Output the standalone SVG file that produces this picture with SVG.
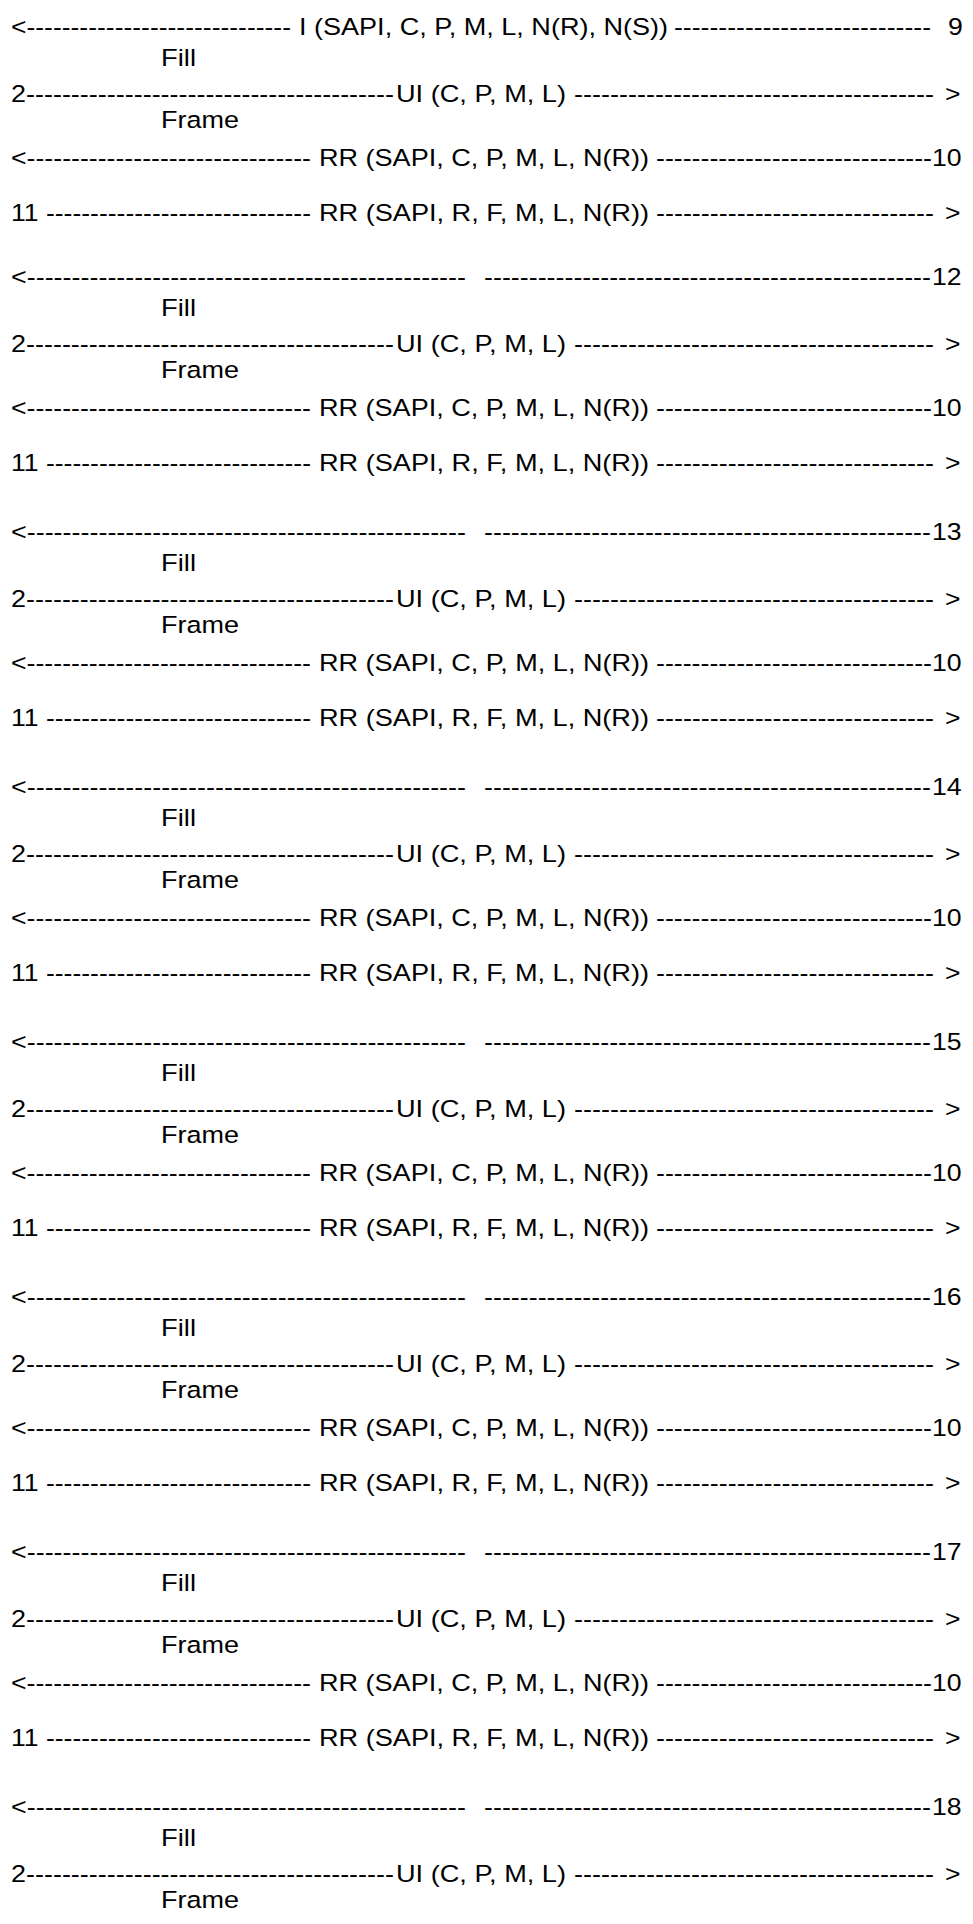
<svg xmlns="http://www.w3.org/2000/svg" width="973" height="1924" viewBox="0 0 973 1924">
<style>
text{font-family:"Liberation Sans",Arial,sans-serif;font-size:24.5px;fill:#000}
</style>
<rect width="973" height="1924" fill="#fff"/>
<g id="connectors">
<g id="block-9">
<text x="11" y="34.6" textLength="280" lengthAdjust="spacingAndGlyphs">&lt;------------------------------</text>
<text x="299" y="34.6" textLength="369" lengthAdjust="spacingAndGlyphs">I (SAPI, C, P, M, L, N(R), N(S))</text>
<text x="674" y="34.6" textLength="257" lengthAdjust="spacingAndGlyphs">-----------------------------</text>
<text x="948" y="34.6" textLength="14.8" lengthAdjust="spacingAndGlyphs">9</text>
<text x="161" y="65.8" textLength="35" lengthAdjust="spacingAndGlyphs">Fill</text>
<text x="11" y="101.8" textLength="383" lengthAdjust="spacingAndGlyphs">2-----------------------------------------</text>
<text x="396" y="101.8" textLength="170" lengthAdjust="spacingAndGlyphs">UI (C, P, M, L)</text>
<text x="574" y="101.8" textLength="360" lengthAdjust="spacingAndGlyphs">----------------------------------------</text>
<text x="945" y="101.8" textLength="15.5" lengthAdjust="spacingAndGlyphs">&gt;</text>
<text x="161" y="127.8" textLength="78" lengthAdjust="spacingAndGlyphs">Frame</text>
<text x="11" y="165.5" textLength="300" lengthAdjust="spacingAndGlyphs">&lt;--------------------------------</text>
<text x="319" y="165.5" textLength="330" lengthAdjust="spacingAndGlyphs">RR (SAPI, C, P, M, L, N(R))</text>
<text x="656" y="165.5" textLength="276" lengthAdjust="spacingAndGlyphs">-------------------------------</text>
<text x="932" y="165.5" textLength="29.6" lengthAdjust="spacingAndGlyphs">10</text>
<text x="11" y="220.5" textLength="300" lengthAdjust="spacingAndGlyphs">11 ------------------------------</text>
<text x="319" y="220.5" textLength="330" lengthAdjust="spacingAndGlyphs">RR (SAPI, R, F, M, L, N(R))</text>
<text x="656" y="220.5" textLength="278" lengthAdjust="spacingAndGlyphs">-------------------------------</text>
<text x="945" y="220.5" textLength="15.5" lengthAdjust="spacingAndGlyphs">&gt;</text>
</g>
<g id="block-12">
<text x="11" y="285" textLength="455" lengthAdjust="spacingAndGlyphs">&lt;-------------------------------------------------</text>
<text x="484" y="285" textLength="447" lengthAdjust="spacingAndGlyphs">--------------------------------------------------</text>
<text x="932" y="285" textLength="29.6" lengthAdjust="spacingAndGlyphs">12</text>
<text x="161" y="316.2" textLength="35" lengthAdjust="spacingAndGlyphs">Fill</text>
<text x="11" y="352.2" textLength="383" lengthAdjust="spacingAndGlyphs">2-----------------------------------------</text>
<text x="396" y="352.2" textLength="170" lengthAdjust="spacingAndGlyphs">UI (C, P, M, L)</text>
<text x="574" y="352.2" textLength="360" lengthAdjust="spacingAndGlyphs">----------------------------------------</text>
<text x="945" y="352.2" textLength="15.5" lengthAdjust="spacingAndGlyphs">&gt;</text>
<text x="161" y="378.2" textLength="78" lengthAdjust="spacingAndGlyphs">Frame</text>
<text x="11" y="415.9" textLength="300" lengthAdjust="spacingAndGlyphs">&lt;--------------------------------</text>
<text x="319" y="415.9" textLength="330" lengthAdjust="spacingAndGlyphs">RR (SAPI, C, P, M, L, N(R))</text>
<text x="656" y="415.9" textLength="276" lengthAdjust="spacingAndGlyphs">-------------------------------</text>
<text x="932" y="415.9" textLength="29.6" lengthAdjust="spacingAndGlyphs">10</text>
<text x="11" y="470.9" textLength="300" lengthAdjust="spacingAndGlyphs">11 ------------------------------</text>
<text x="319" y="470.9" textLength="330" lengthAdjust="spacingAndGlyphs">RR (SAPI, R, F, M, L, N(R))</text>
<text x="656" y="470.9" textLength="278" lengthAdjust="spacingAndGlyphs">-------------------------------</text>
<text x="945" y="470.9" textLength="15.5" lengthAdjust="spacingAndGlyphs">&gt;</text>
</g>
<g id="block-13">
<text x="11" y="540" textLength="455" lengthAdjust="spacingAndGlyphs">&lt;-------------------------------------------------</text>
<text x="484" y="540" textLength="447" lengthAdjust="spacingAndGlyphs">--------------------------------------------------</text>
<text x="932" y="540" textLength="29.6" lengthAdjust="spacingAndGlyphs">13</text>
<text x="161" y="571.2" textLength="35" lengthAdjust="spacingAndGlyphs">Fill</text>
<text x="11" y="607.2" textLength="383" lengthAdjust="spacingAndGlyphs">2-----------------------------------------</text>
<text x="396" y="607.2" textLength="170" lengthAdjust="spacingAndGlyphs">UI (C, P, M, L)</text>
<text x="574" y="607.2" textLength="360" lengthAdjust="spacingAndGlyphs">----------------------------------------</text>
<text x="945" y="607.2" textLength="15.5" lengthAdjust="spacingAndGlyphs">&gt;</text>
<text x="161" y="633.2" textLength="78" lengthAdjust="spacingAndGlyphs">Frame</text>
<text x="11" y="670.9" textLength="300" lengthAdjust="spacingAndGlyphs">&lt;--------------------------------</text>
<text x="319" y="670.9" textLength="330" lengthAdjust="spacingAndGlyphs">RR (SAPI, C, P, M, L, N(R))</text>
<text x="656" y="670.9" textLength="276" lengthAdjust="spacingAndGlyphs">-------------------------------</text>
<text x="932" y="670.9" textLength="29.6" lengthAdjust="spacingAndGlyphs">10</text>
<text x="11" y="725.9" textLength="300" lengthAdjust="spacingAndGlyphs">11 ------------------------------</text>
<text x="319" y="725.9" textLength="330" lengthAdjust="spacingAndGlyphs">RR (SAPI, R, F, M, L, N(R))</text>
<text x="656" y="725.9" textLength="278" lengthAdjust="spacingAndGlyphs">-------------------------------</text>
<text x="945" y="725.9" textLength="15.5" lengthAdjust="spacingAndGlyphs">&gt;</text>
</g>
<g id="block-14">
<text x="11" y="795" textLength="455" lengthAdjust="spacingAndGlyphs">&lt;-------------------------------------------------</text>
<text x="484" y="795" textLength="447" lengthAdjust="spacingAndGlyphs">--------------------------------------------------</text>
<text x="932" y="795" textLength="29.6" lengthAdjust="spacingAndGlyphs">14</text>
<text x="161" y="826.2" textLength="35" lengthAdjust="spacingAndGlyphs">Fill</text>
<text x="11" y="862.2" textLength="383" lengthAdjust="spacingAndGlyphs">2-----------------------------------------</text>
<text x="396" y="862.2" textLength="170" lengthAdjust="spacingAndGlyphs">UI (C, P, M, L)</text>
<text x="574" y="862.2" textLength="360" lengthAdjust="spacingAndGlyphs">----------------------------------------</text>
<text x="945" y="862.2" textLength="15.5" lengthAdjust="spacingAndGlyphs">&gt;</text>
<text x="161" y="888.2" textLength="78" lengthAdjust="spacingAndGlyphs">Frame</text>
<text x="11" y="925.9" textLength="300" lengthAdjust="spacingAndGlyphs">&lt;--------------------------------</text>
<text x="319" y="925.9" textLength="330" lengthAdjust="spacingAndGlyphs">RR (SAPI, C, P, M, L, N(R))</text>
<text x="656" y="925.9" textLength="276" lengthAdjust="spacingAndGlyphs">-------------------------------</text>
<text x="932" y="925.9" textLength="29.6" lengthAdjust="spacingAndGlyphs">10</text>
<text x="11" y="980.9" textLength="300" lengthAdjust="spacingAndGlyphs">11 ------------------------------</text>
<text x="319" y="980.9" textLength="330" lengthAdjust="spacingAndGlyphs">RR (SAPI, R, F, M, L, N(R))</text>
<text x="656" y="980.9" textLength="278" lengthAdjust="spacingAndGlyphs">-------------------------------</text>
<text x="945" y="980.9" textLength="15.5" lengthAdjust="spacingAndGlyphs">&gt;</text>
</g>
<g id="block-15">
<text x="11" y="1050" textLength="455" lengthAdjust="spacingAndGlyphs">&lt;-------------------------------------------------</text>
<text x="484" y="1050" textLength="447" lengthAdjust="spacingAndGlyphs">--------------------------------------------------</text>
<text x="932" y="1050" textLength="29.6" lengthAdjust="spacingAndGlyphs">15</text>
<text x="161" y="1081.2" textLength="35" lengthAdjust="spacingAndGlyphs">Fill</text>
<text x="11" y="1117.2" textLength="383" lengthAdjust="spacingAndGlyphs">2-----------------------------------------</text>
<text x="396" y="1117.2" textLength="170" lengthAdjust="spacingAndGlyphs">UI (C, P, M, L)</text>
<text x="574" y="1117.2" textLength="360" lengthAdjust="spacingAndGlyphs">----------------------------------------</text>
<text x="945" y="1117.2" textLength="15.5" lengthAdjust="spacingAndGlyphs">&gt;</text>
<text x="161" y="1143.2" textLength="78" lengthAdjust="spacingAndGlyphs">Frame</text>
<text x="11" y="1180.9" textLength="300" lengthAdjust="spacingAndGlyphs">&lt;--------------------------------</text>
<text x="319" y="1180.9" textLength="330" lengthAdjust="spacingAndGlyphs">RR (SAPI, C, P, M, L, N(R))</text>
<text x="656" y="1180.9" textLength="276" lengthAdjust="spacingAndGlyphs">-------------------------------</text>
<text x="932" y="1180.9" textLength="29.6" lengthAdjust="spacingAndGlyphs">10</text>
<text x="11" y="1235.9" textLength="300" lengthAdjust="spacingAndGlyphs">11 ------------------------------</text>
<text x="319" y="1235.9" textLength="330" lengthAdjust="spacingAndGlyphs">RR (SAPI, R, F, M, L, N(R))</text>
<text x="656" y="1235.9" textLength="278" lengthAdjust="spacingAndGlyphs">-------------------------------</text>
<text x="945" y="1235.9" textLength="15.5" lengthAdjust="spacingAndGlyphs">&gt;</text>
</g>
<g id="block-16">
<text x="11" y="1305" textLength="455" lengthAdjust="spacingAndGlyphs">&lt;-------------------------------------------------</text>
<text x="484" y="1305" textLength="447" lengthAdjust="spacingAndGlyphs">--------------------------------------------------</text>
<text x="932" y="1305" textLength="29.6" lengthAdjust="spacingAndGlyphs">16</text>
<text x="161" y="1336.2" textLength="35" lengthAdjust="spacingAndGlyphs">Fill</text>
<text x="11" y="1372.2" textLength="383" lengthAdjust="spacingAndGlyphs">2-----------------------------------------</text>
<text x="396" y="1372.2" textLength="170" lengthAdjust="spacingAndGlyphs">UI (C, P, M, L)</text>
<text x="574" y="1372.2" textLength="360" lengthAdjust="spacingAndGlyphs">----------------------------------------</text>
<text x="945" y="1372.2" textLength="15.5" lengthAdjust="spacingAndGlyphs">&gt;</text>
<text x="161" y="1398.2" textLength="78" lengthAdjust="spacingAndGlyphs">Frame</text>
<text x="11" y="1435.9" textLength="300" lengthAdjust="spacingAndGlyphs">&lt;--------------------------------</text>
<text x="319" y="1435.9" textLength="330" lengthAdjust="spacingAndGlyphs">RR (SAPI, C, P, M, L, N(R))</text>
<text x="656" y="1435.9" textLength="276" lengthAdjust="spacingAndGlyphs">-------------------------------</text>
<text x="932" y="1435.9" textLength="29.6" lengthAdjust="spacingAndGlyphs">10</text>
<text x="11" y="1490.9" textLength="300" lengthAdjust="spacingAndGlyphs">11 ------------------------------</text>
<text x="319" y="1490.9" textLength="330" lengthAdjust="spacingAndGlyphs">RR (SAPI, R, F, M, L, N(R))</text>
<text x="656" y="1490.9" textLength="278" lengthAdjust="spacingAndGlyphs">-------------------------------</text>
<text x="945" y="1490.9" textLength="15.5" lengthAdjust="spacingAndGlyphs">&gt;</text>
</g>
<g id="block-17">
<text x="11" y="1560" textLength="455" lengthAdjust="spacingAndGlyphs">&lt;-------------------------------------------------</text>
<text x="484" y="1560" textLength="447" lengthAdjust="spacingAndGlyphs">--------------------------------------------------</text>
<text x="932" y="1560" textLength="29.6" lengthAdjust="spacingAndGlyphs">17</text>
<text x="161" y="1591.2" textLength="35" lengthAdjust="spacingAndGlyphs">Fill</text>
<text x="11" y="1627.2" textLength="383" lengthAdjust="spacingAndGlyphs">2-----------------------------------------</text>
<text x="396" y="1627.2" textLength="170" lengthAdjust="spacingAndGlyphs">UI (C, P, M, L)</text>
<text x="574" y="1627.2" textLength="360" lengthAdjust="spacingAndGlyphs">----------------------------------------</text>
<text x="945" y="1627.2" textLength="15.5" lengthAdjust="spacingAndGlyphs">&gt;</text>
<text x="161" y="1653.2" textLength="78" lengthAdjust="spacingAndGlyphs">Frame</text>
<text x="11" y="1690.9" textLength="300" lengthAdjust="spacingAndGlyphs">&lt;--------------------------------</text>
<text x="319" y="1690.9" textLength="330" lengthAdjust="spacingAndGlyphs">RR (SAPI, C, P, M, L, N(R))</text>
<text x="656" y="1690.9" textLength="276" lengthAdjust="spacingAndGlyphs">-------------------------------</text>
<text x="932" y="1690.9" textLength="29.6" lengthAdjust="spacingAndGlyphs">10</text>
<text x="11" y="1745.9" textLength="300" lengthAdjust="spacingAndGlyphs">11 ------------------------------</text>
<text x="319" y="1745.9" textLength="330" lengthAdjust="spacingAndGlyphs">RR (SAPI, R, F, M, L, N(R))</text>
<text x="656" y="1745.9" textLength="278" lengthAdjust="spacingAndGlyphs">-------------------------------</text>
<text x="945" y="1745.9" textLength="15.5" lengthAdjust="spacingAndGlyphs">&gt;</text>
</g>
<g id="block-18">
<text x="11" y="1815" textLength="455" lengthAdjust="spacingAndGlyphs">&lt;-------------------------------------------------</text>
<text x="484" y="1815" textLength="447" lengthAdjust="spacingAndGlyphs">--------------------------------------------------</text>
<text x="932" y="1815" textLength="29.6" lengthAdjust="spacingAndGlyphs">18</text>
<text x="161" y="1846.2" textLength="35" lengthAdjust="spacingAndGlyphs">Fill</text>
<text x="11" y="1882.2" textLength="383" lengthAdjust="spacingAndGlyphs">2-----------------------------------------</text>
<text x="396" y="1882.2" textLength="170" lengthAdjust="spacingAndGlyphs">UI (C, P, M, L)</text>
<text x="574" y="1882.2" textLength="360" lengthAdjust="spacingAndGlyphs">----------------------------------------</text>
<text x="945" y="1882.2" textLength="15.5" lengthAdjust="spacingAndGlyphs">&gt;</text>
<text x="161" y="1908.2" textLength="78" lengthAdjust="spacingAndGlyphs">Frame</text>
</g>
</g>
</svg>
